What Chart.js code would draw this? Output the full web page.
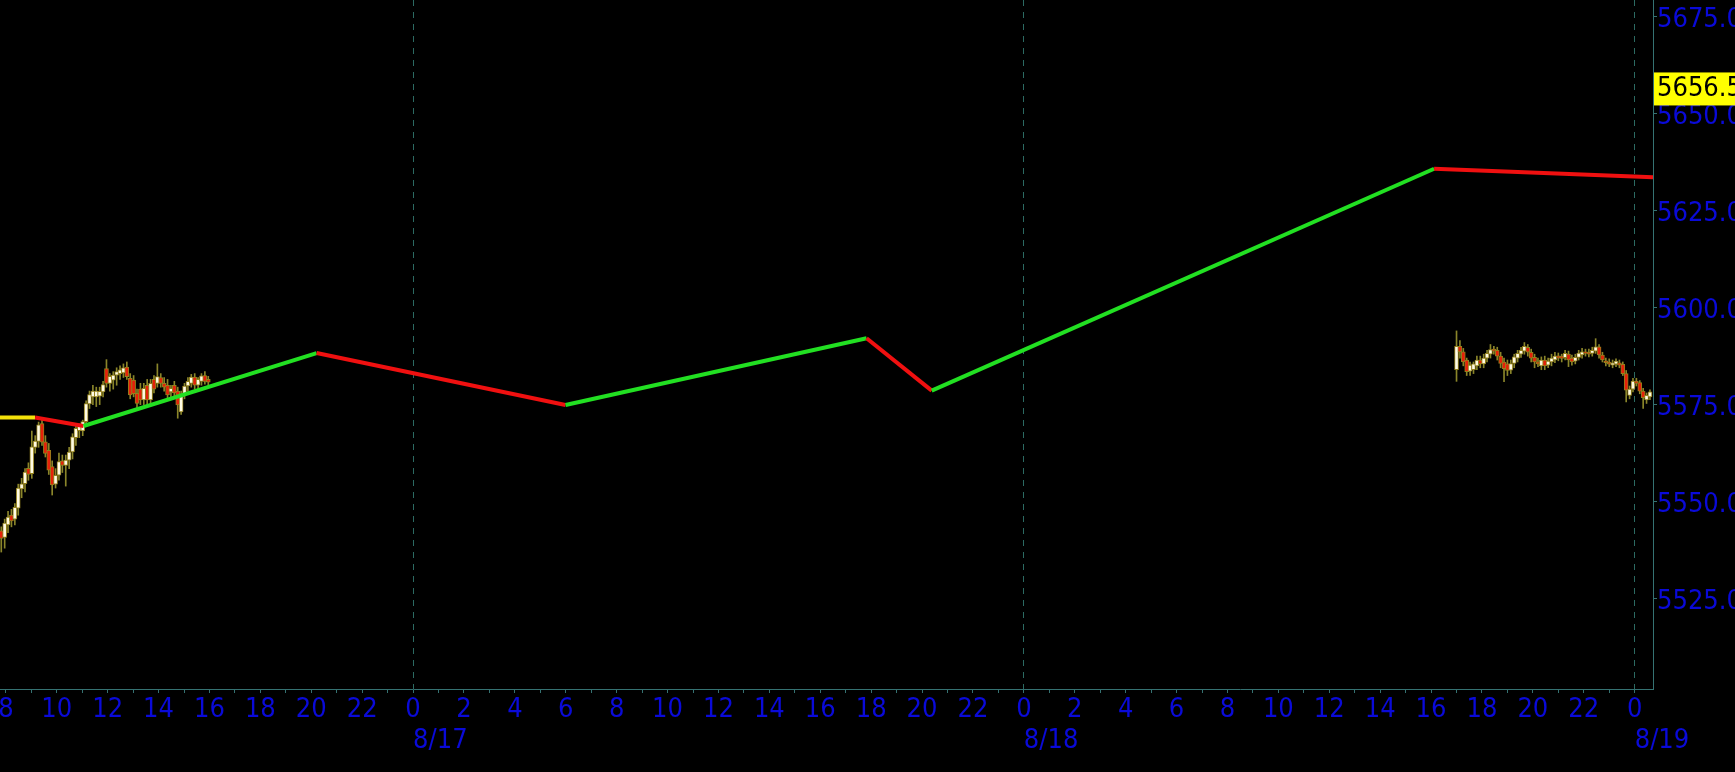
<!DOCTYPE html>
<html>
<head>
<meta charset="utf-8">
<script src="https://cdn.jsdelivr.net/npm/chart.js@4/dist/chart.umd.min.js"></script>
<style>
  html, body { margin: 0; padding: 0; background: #000; overflow: hidden; }
  #wrap { width: 1735px; height: 772px; }
</style>
</head>
<body>
<div id="wrap"><canvas id="chart"></canvas></div>
<script>
// hours are counted from 8/17 00:00
const dayStarts = [0, 24, 48];
const dayLabels = ['8/17', '8/18', '8/19'];
const priceTicks = [5525, 5550, 5575, 5600, 5625, 5650, 5675];
const lastPrice = 5656.5;

// swing line vertices
const swingHours = [-17, -14.85, -12.95, -3.79, 5.99, 17.82, 20.38, 40.12, 48.72];
const swingPrices = [5571.7, 5571.7, 5569.5, 5588.3, 5574.9, 5592.1, 5578.6, 5635.8, 5633.6];

// candles [open, high, low, close]
const barStep = 8 / 60;
const sessionOneStart = -16.18;
const sessionOneBars = [
    [5542.5, 5543.5, 5537.0, 5540.5], [5540.8, 5545.5, 5538.0, 5544.5], [5544.0, 5547.5, 5542.0, 5546.0],
    [5546.5, 5548.0, 5543.5, 5545.0], [5545.5, 5549.5, 5544.0, 5548.5], [5548.3, 5554.5, 5546.5, 5553.5],
    [5553.3, 5556.0, 5551.0, 5554.6], [5554.6, 5558.5, 5552.5, 5557.6], [5558.6, 5560.0, 5555.5, 5557.0],
    [5557.2, 5568.2, 5556.0, 5564.1], [5564.0, 5567.0, 5562.5, 5565.6], [5565.5, 5570.5, 5564.0, 5569.8],
    [5570.1, 5571.2, 5564.5, 5565.3], [5565.4, 5567.0, 5561.5, 5562.4], [5563.2, 5565.0, 5557.0, 5558.1],
    [5559.0, 5560.5, 5551.7, 5554.3], [5554.5, 5558.5, 5553.5, 5556.8], [5556.8, 5562.5, 5555.5, 5560.3],
    [5560.5, 5562.0, 5557.5, 5559.3], [5559.3, 5562.0, 5554.0, 5560.7], [5560.7, 5564.0, 5558.5, 5562.8],
    [5562.8, 5567.5, 5561.0, 5566.7], [5566.5, 5569.5, 5564.5, 5568.9], [5568.3, 5570.0, 5566.5, 5569.5],
    [5568.2, 5571.0, 5567.0, 5570.6], [5570.6, 5576.0, 5569.5, 5575.3], [5575.2, 5578.5, 5574.0, 5577.6],
    [5577.0, 5580.0, 5575.0, 5578.5], [5577.0, 5579.5, 5574.5, 5578.5], [5577.2, 5579.5, 5575.0, 5578.4],
    [5578.3, 5581.0, 5577.0, 5580.2], [5584.3, 5586.6, 5579.5, 5580.5], [5580.5, 5583.0, 5578.5, 5582.3],
    [5581.3, 5583.5, 5579.0, 5582.6], [5582.6, 5584.5, 5580.0, 5583.5], [5583.0, 5585.0, 5581.5, 5584.0],
    [5583.2, 5585.5, 5582.0, 5584.5], [5584.7, 5586.0, 5581.5, 5582.2], [5581.8, 5583.0, 5576.5, 5577.5],
    [5581.3, 5582.5, 5577.0, 5577.8], [5577.9, 5579.0, 5573.5, 5575.3], [5579.0, 5580.5, 5575.0, 5576.2],
    [5576.2, 5580.5, 5575.0, 5579.2], [5580.0, 5581.5, 5575.0, 5576.2], [5576.2, 5581.5, 5575.0, 5580.5],
    [5581.5, 5582.5, 5578.0, 5579.0], [5580.5, 5585.5, 5579.5, 5582.2], [5582.0, 5583.0, 5579.5, 5580.5],
    [5580.5, 5582.0, 5578.5, 5579.5], [5580.0, 5581.5, 5576.5, 5577.5], [5578.3, 5580.0, 5577.0, 5579.2],
    [5580.0, 5581.0, 5577.0, 5578.0], [5578.5, 5579.5, 5571.5, 5574.9], [5573.1, 5578.5, 5572.5, 5577.6],
    [5577.5, 5580.5, 5576.5, 5579.8], [5579.8, 5582.0, 5578.5, 5581.0], [5580.5, 5582.8, 5579.5, 5582.1],
    [5582.1, 5583.0, 5579.0, 5580.0], [5580.0, 5582.0, 5579.0, 5581.5], [5581.0, 5583.0, 5580.0, 5582.4],
    [5582.5, 5583.5, 5580.3, 5581.0], [5581.5, 5582.3, 5580.0, 5580.8]
];
const sessionTwoStart = 41.0;
const sessionTwoBars = [
    [5584.0, 5594.0, 5581.0, 5590.0], [5590.0, 5591.5, 5587.0, 5588.6], [5588.6, 5589.5, 5585.0, 5586.0],
    [5586.5, 5587.0, 5582.5, 5583.5], [5583.6, 5586.0, 5582.5, 5585.2], [5584.0, 5586.0, 5583.0, 5585.5],
    [5585.0, 5587.5, 5584.0, 5586.5], [5586.5, 5587.5, 5584.5, 5585.5], [5585.5, 5588.0, 5584.5, 5587.0],
    [5587.0, 5589.0, 5586.0, 5588.2], [5588.0, 5590.5, 5587.0, 5589.2], [5589.3, 5590.0, 5588.0, 5588.8],
    [5589.0, 5589.8, 5586.5, 5587.5], [5587.5, 5588.5, 5584.5, 5585.6], [5586.0, 5587.0, 5580.9, 5584.3],
    [5585.5, 5586.5, 5582.5, 5583.8], [5583.9, 5586.5, 5583.0, 5585.6], [5585.6, 5588.0, 5584.5, 5587.3],
    [5587.0, 5589.0, 5586.0, 5588.2], [5588.0, 5589.8, 5587.2, 5589.0], [5588.8, 5591.0, 5588.0, 5590.0],
    [5589.8, 5590.5, 5587.5, 5588.5], [5588.5, 5589.3, 5586.0, 5587.0], [5587.2, 5588.0, 5584.5, 5586.0],
    [5586.0, 5587.0, 5584.8, 5585.5], [5585.0, 5587.3, 5584.0, 5586.5], [5586.5, 5587.5, 5584.0, 5585.0],
    [5585.2, 5587.0, 5584.5, 5586.2], [5586.0, 5588.0, 5585.0, 5587.0], [5586.5, 5588.5, 5585.8, 5587.5],
    [5587.6, 5588.3, 5586.3, 5587.0], [5587.5, 5588.0, 5586.0, 5586.9], [5587.1, 5589.0, 5586.5, 5588.2],
    [5588.0, 5588.8, 5584.8, 5586.5], [5587.0, 5587.8, 5585.2, 5586.0], [5586.2, 5588.0, 5585.5, 5587.2],
    [5587.2, 5589.0, 5586.5, 5588.3], [5587.8, 5589.5, 5587.0, 5588.6], [5588.6, 5589.3, 5587.5, 5588.2],
    [5588.5, 5589.3, 5587.3, 5588.0], [5588.2, 5589.8, 5587.5, 5589.0], [5588.8, 5592.0, 5588.2, 5589.9],
    [5589.9, 5590.5, 5587.0, 5587.8], [5587.8, 5588.5, 5586.0, 5586.5], [5586.3, 5587.0, 5585.0, 5585.8],
    [5586.0, 5586.8, 5584.8, 5585.4], [5585.2, 5586.5, 5584.5, 5585.8], [5585.4, 5586.8, 5584.8, 5586.2],
    [5585.8, 5586.5, 5584.5, 5585.2], [5585.4, 5586.0, 5582.5, 5583.0], [5583.0, 5583.8, 5575.7, 5578.7],
    [5577.4, 5579.8, 5576.5, 5579.0], [5579.0, 5581.8, 5578.3, 5581.1], [5581.1, 5581.8, 5579.8, 5580.5],
    [5580.7, 5581.2, 5577.8, 5578.5], [5578.5, 5579.2, 5574.0, 5576.8], [5576.2, 5578.0, 5575.3, 5577.4],
    [5577.0, 5578.8, 5576.3, 5578.3]
];

const axisColor = '#357272';
const midnightColor = '#2c6a62';
const labelColor = '#0a0ad8';
const upLine = '#22e022';
const downLine = '#f01010';
const flatLine = '#f5e20a';
const upBody = '#fffbe4';
const downBody = '#e6200a';
const bodyEdge = '#94801c';
const wickColor = '#8a852a';
const axisFont = { family: "'DejaVu Sans Condensed', 'DejaVu Sans', sans-serif", size: 27, lineHeight: 1 };

function buildCandles(start, bars, wicks, bodies) {
    bars.forEach(function(b, i) {
        const x = start + i * barStep;
        wicks.push({ x: x, y: [b[2], b[1]] });
        bodies.push({ x: x, y: [b[0], b[3]] });
    });
}

const wickData = [];
const bodyData = [];
buildCandles(sessionOneStart, sessionOneBars, wickData, bodyData);
buildCandles(sessionTwoStart, sessionTwoBars, wickData, bodyData);

const swingData = swingHours.map(function(h, i) { return { x: h, y: swingPrices[i] }; });

const hourTicks = [];
for (let h = -16; h <= 48; h++) hourTicks.push(h);

const blackBackground = {
    id: 'blackBackground',
    beforeDraw(chart) {
        const ctx = chart.ctx;
        ctx.save();
        ctx.fillStyle = '#000';
        ctx.fillRect(0, 0, chart.width, chart.height);
        ctx.restore();
    }
};

const priceTag = {
    id: 'priceTag',
    afterDraw(chart) {
        const ctx = chart.ctx;
        const y = chart.scales.y.getPixelForValue(lastPrice);
        const left = chart.chartArea.right + 1;
        ctx.save();
        ctx.fillStyle = '#ffff00';
        ctx.fillRect(left, y - 16, chart.width - left, 33);
        ctx.fillStyle = '#000';
        ctx.font = axisFont.size + 'px ' + axisFont.family;
        ctx.textBaseline = 'middle';
        ctx.textAlign = 'left';
        ctx.fillText(lastPrice.toFixed(1), left + 3, y + 1);
        ctx.restore();
    }
};

new Chart(document.getElementById('chart'), {
    type: 'bar',
    data: {
        datasets: [{
            type: 'line',
            data: swingData,
            order: 0,
            borderWidth: 4,
            pointRadius: 0,
            tension: 0,
            clip: 0,
            borderColor: upLine,
            segment: {
                borderColor: function(c) {
                    if (c.p1.parsed.y > c.p0.parsed.y) return upLine;
                    if (c.p1.parsed.y < c.p0.parsed.y) return downLine;
                    return flatLine;
                }
            }
        }, {
            type: 'bar',
            data: bodyData,
            order: 1,
            grouped: false,
            barThickness: 4,
            borderWidth: 1,
            borderSkipped: false,
            borderColor: bodyEdge,
            backgroundColor: function(ctx) {
                const r = ctx.raw;
                if (!r) return upBody;
                return r.y[1] >= r.y[0] ? upBody : downBody;
            }
        }, {
            type: 'bar',
            data: wickData,
            order: 2,
            grouped: false,
            barThickness: 1,
            borderWidth: 0,
            backgroundColor: wickColor
        }]
    },
    options: {
        responsive: true,
        maintainAspectRatio: false,
        animation: false,
        events: [],
        layout: { padding: 0 },
        plugins: {
            legend: { display: false },
            tooltip: { enabled: false }
        },
        scales: {
            x: {
                type: 'linear',
                position: 'bottom',
                min: -16.23,
                max: 48.72,
                offset: false,
                afterBuildTicks: function(s) { s.ticks = hourTicks.map(function(v) { return { value: v }; }); },
                afterFit: function(s) { s.height = 30; s.paddingLeft = 0; s.paddingRight = 0; },
                grid: {
                    offset: false,
                    color: function(ctx) {
                        return ctx.tick && dayStarts.includes(ctx.tick.value) ? midnightColor : 'rgba(0,0,0,0)';
                    },
                    lineWidth: 1,
                    tickColor: axisColor,
                    tickLength: 4,
                    tickBorderDash: []
                },
                border: { color: axisColor, width: 1, dash: [6, 6] },
                ticks: {
                    autoSkip: false,
                    maxRotation: 0,
                    minRotation: 0,
                    padding: 3,
                    color: labelColor,
                    font: axisFont,
                    callback: function(v) { return v % 2 === 0 ? String(((v % 24) + 24) % 24) : ''; }
                }
            },
            x2: {
                type: 'linear',
                position: 'bottom',
                weight: 1,
                min: -16.23,
                max: 48.72,
                offset: false,
                afterBuildTicks: function(s) { s.ticks = dayStarts.map(function(v) { return { value: v }; }); },
                afterFit: function(s) { s.height = 53; s.paddingLeft = 0; s.paddingRight = 0; },
                grid: { display: false, offset: false },
                border: { display: false },
                ticks: {
                    autoSkip: false,
                    maxRotation: 0,
                    minRotation: 0,
                    align: 'start',
                    padding: 0,
                    color: labelColor,
                    font: axisFont,
                    callback: function(v) { return dayLabels[dayStarts.indexOf(v)]; }
                }
            },
            y: {
                type: 'linear',
                position: 'right',
                min: 5501.7,
                max: 5679.3,
                afterBuildTicks: function(s) { s.ticks = priceTicks.map(function(v) { return { value: v }; }); },
                afterFit: function(s) { s.width = 82; s.paddingTop = 0; s.paddingBottom = 0; },
                grid: {
                    drawOnChartArea: false,
                    color: axisColor,
                    tickColor: axisColor,
                    tickLength: 4
                },
                border: { color: axisColor, width: 1 },
                ticks: {
                    padding: 0,
                    labelOffset: 3,
                    color: labelColor,
                    font: axisFont,
                    callback: function(v) { return v.toFixed(1); }
                }
            }
        }
    },
    plugins: [blackBackground, priceTag]
});
</script>
</body>
</html>
